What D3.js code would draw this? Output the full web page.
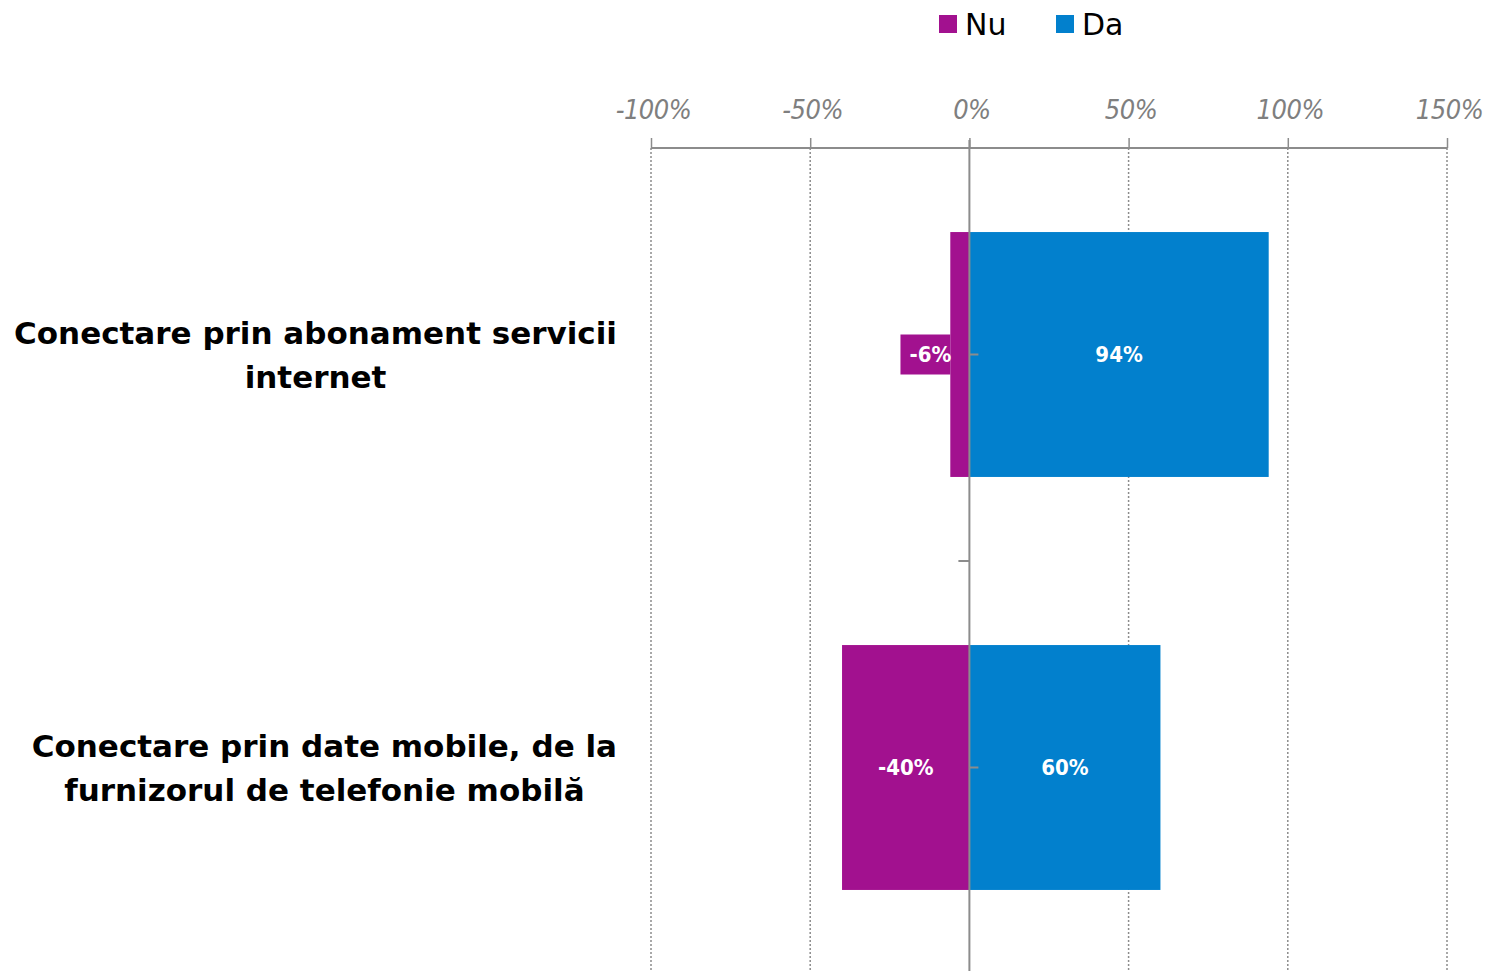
<!DOCTYPE html>
<html>
<head>
<meta charset="utf-8">
<script src="https://cdn.jsdelivr.net/npm/d3@7"></script>
<style>
  html, body { margin: 0; padding: 0; background: #fff; }
  svg { display: block; }
</style>
</head>
<body>
<div id="chart"></div>
<script>
const categories = [
    ['Conectare prin abonament servicii', 'internet'],
    ['Conectare prin date mobile, de la', 'furnizorul de telefonie mobilă']
];
const seriesNames = ['Nu', 'Da'];
const nuValues = [-6, -40];
const daValues = [94, 60];
const xTicks = [-100, -50, 0, 50, 100, 150];

const colors = { Nu: '#a2118f', Da: '#0280cd' };
const gridColor = '#8c8c8c';

const width = 1486;
const height = 971;

const svg = d3.select('#chart')
    .append('svg')
    .attr('width', width)
    .attr('height', height);

const xScale = d3.scaleLinear().domain([-100, 150]).range([651, 1447]);
const yScale = d3.scaleBand()
    .domain(d3.range(categories.length))
    .range([148, 974])
    .paddingInner(0.407)
    .paddingOuter(0.2035);

const axisY = 148;

// Gridlines (dotted), zero line solid
svg.append('g')
    .selectAll('line')
    .data(xTicks.filter(t => t !== 0))
    .enter()
    .append('line')
    .attr('x1', d => xScale(d))
    .attr('x2', d => xScale(d))
    .attr('y1', axisY)
    .attr('y2', height)
    .attr('stroke', gridColor)
    .attr('stroke-width', 1.5)
    .attr('stroke-dasharray', '2,2');

// Bars
const rows = categories.map((c, i) => ({ i, nu: nuValues[i], da: daValues[i] }));
const bars = svg.append('g');

bars.selectAll('rect.nu')
    .data(rows)
    .enter()
    .append('rect')
    .attr('x', d => xScale(d.nu))
    .attr('y', d => yScale(d.i))
    .attr('width', d => xScale(0) - xScale(d.nu))
    .attr('height', yScale.bandwidth())
    .attr('fill', colors.Nu);

bars.selectAll('rect.da')
    .data(rows)
    .enter()
    .append('rect')
    .attr('x', xScale(0))
    .attr('y', d => yScale(d.i))
    .attr('width', d => xScale(d.da) - xScale(0))
    .attr('height', yScale.bandwidth())
    .attr('fill', colors.Da);

// Top axis
const xAxis = d3.axisTop(xScale)
    .tickValues(xTicks)
    .tickSize(10)
    .tickFormat(d => d + '%');

const axisG = svg.append('g')
    .attr('transform', `translate(0,${axisY})`)
    .call(xAxis);
axisG.select('.domain').attr('stroke', gridColor).attr('stroke-width', 2)
    .attr('d', `M${xScale(-100)},0H${xScale(150)}`);
axisG.selectAll('.tick line').attr('stroke', gridColor).attr('stroke-width', 1.5);
axisG.selectAll('.tick text')
    .attr('y', -29)
    .attr('x', 2)
    .attr('fill', '#7f7f7f')
    .style('font-family', '"DejaVu Sans Condensed", "DejaVu Sans", sans-serif')
    .style('font-style', 'italic')
    .style('font-size', '27px')
    .style('letter-spacing', '-0.5px');

// Zero line (vertical axis)
svg.append('line')
    .attr('x1', xScale(0)).attr('x2', xScale(0))
    .attr('y1', axisY - 8).attr('y2', height)
    .attr('stroke', gridColor)
    .attr('stroke-width', 2);

// Category ticks: at centres (right side), boundaries (left side)
svg.append('g')
    .selectAll('line')
    .data(rows)
    .enter()
    .append('line')
    .attr('x1', xScale(0)).attr('x2', xScale(0) + 9)
    .attr('y1', d => yScale(d.i) + yScale.bandwidth() / 2)
    .attr('y2', d => yScale(d.i) + yScale.bandwidth() / 2)
    .attr('stroke', gridColor).attr('stroke-width', 2);

svg.append('g')
    .selectAll('line')
    .data(rows.slice(1))
    .enter()
    .append('line')
    .attr('x1', xScale(0) - 11).attr('x2', xScale(0))
    .attr('y1', d => yScale(d.i) - yScale.step() * yScale.paddingInner() / 2)
    .attr('y2', d => yScale(d.i) - yScale.step() * yScale.paddingInner() / 2)
    .attr('stroke', gridColor).attr('stroke-width', 2);

// Data labels
const labelFont = '"DejaVu Sans Condensed", "DejaVu Sans", sans-serif';
function addLabel(value, i, fill) {
    const cy = yScale(i) + yScale.bandwidth() / 2;
    const x0 = Math.min(xScale(0), xScale(value));
    const x1 = Math.max(xScale(0), xScale(value));
    const g = svg.append('g');
    const t = g.append('text')
        .text(value + '%')
        .attr('y', cy)
        .attr('dy', '0.36em')
        .attr('text-anchor', 'middle')
        .attr('fill', '#fff')
        .style('font-family', labelFont)
        .style('font-weight', 'bold')
        .style('font-size', '22px');
    const w = t.node().getComputedTextLength();
    let cx = (x0 + x1) / 2;
    if (x1 - x0 < w + 16) {
        // label does not fit: put it outside with its own fill box
        cx = x0 - w / 2 + 1;
        g.insert('rect', 'text')
            .attr('x', x0 - w - 8)
            .attr('y', cy - 20)
            .attr('width', w + 8)
            .attr('height', 40)
            .attr('fill', fill);
    }
    t.attr('x', cx);
}
rows.forEach(d => {
    addLabel(d.nu, d.i, colors.Nu);
    addLabel(d.da, d.i, colors.Da);
});

// Category labels, right edge at 617, lines centred on the block
const catG = svg.append('g');
categories.forEach((lines, i) => {
    const cy = yScale(i) + yScale.bandwidth() / 2;
    const lh = 44;
    const texts = lines.map((line, k) => catG.append('text')
        .text(line)
        .attr('y', cy + (k - (lines.length - 1) / 2) * lh)
        .attr('dy', '0.36em')
        .attr('text-anchor', 'middle')
        .attr('fill', '#000')
        .style('font-family', '"DejaVu Sans", sans-serif')
        .style('font-weight', 'bold')
        .style('font-size', '31px'));
    const maxW = d3.max(texts, t => t.node().getComputedTextLength());
    texts.forEach(t => t.attr('x', 617 - maxW / 2));
});

// Legend
const legend = svg.append('g');
const legendItems = [
    { name: seriesNames[0], x: 939 },
    { name: seriesNames[1], x: 1056 }
];
legendItems.forEach(item => {
    legend.append('rect')
        .attr('x', item.x).attr('y', 15)
        .attr('width', 18).attr('height', 18)
        .attr('fill', colors[item.name]);
    legend.append('text')
        .text(item.name)
        .attr('x', item.x + 26)
        .attr('y', 24)
        .attr('dy', '0.36em')
        .attr('fill', '#000')
        .style('font-family', '"DejaVu Sans", sans-serif')
        .style('font-size', '30px');
});
</script>
</body>
</html>
